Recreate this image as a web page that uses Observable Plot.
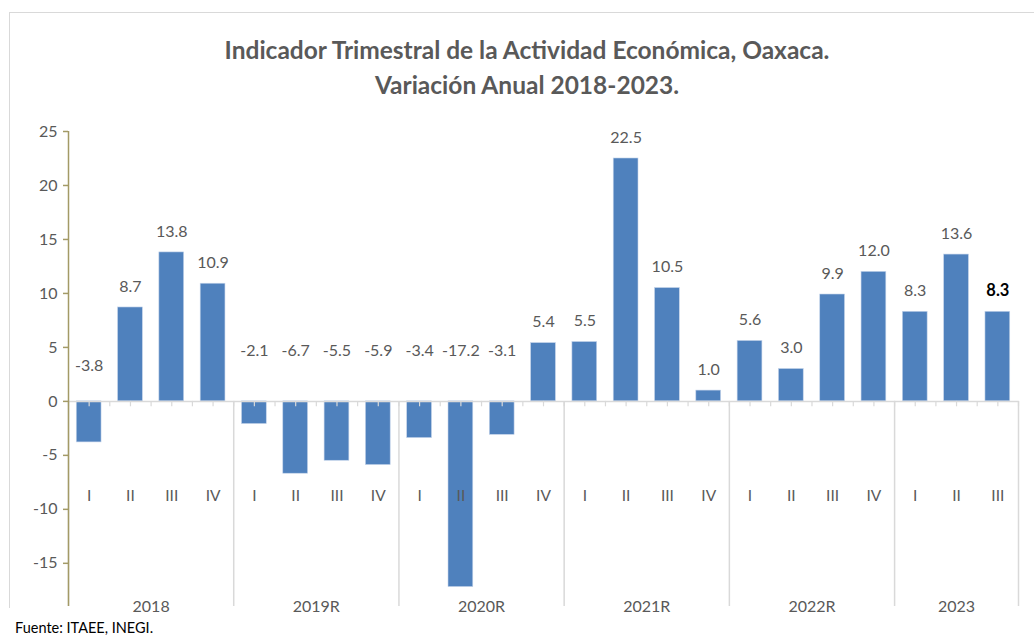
<!DOCTYPE html>
<html>
<head>
<meta charset="utf-8">
<script src="https://cdn.jsdelivr.net/npm/d3@7"></script>
<script src="https://cdn.jsdelivr.net/npm/@observablehq/plot@0.6"></script>
<style>
  html, body { margin: 0; padding: 0; background: #fff; }
  #wrap { position: relative; width: 1034px; height: 641px; overflow: hidden; font-family: Lato, "Open Sans", sans-serif; }
  #frame { position: absolute; left: 9px; top: 12px; width: 1040px; height: 596px; border-left: 1.5px solid #d9d9d9; border-top: 1.5px solid #d9d9d9; box-sizing: border-box; }
  #title { position: absolute; left: 0; top: 32px; width: 1054px; text-align: center; color: #595959; font-weight: bold; font-size: 24.5px; line-height: 35px; }
  #chart { position: absolute; left: 0; top: 0; }
  #footer { position: absolute; left: 15px; top: 619px; font-size: 14.5px; color: #000; line-height: 18px; }
</style>
</head>
<body>
<div id="wrap">
  <div id="frame"></div>
  <div id="title">Indicador Trimestral de la Actividad Económica, Oaxaca.<br>Variación Anual 2018-2023.</div>
  <div id="chart"></div>
  <div id="footer">Fuente: ITAEE, INEGI.</div>
</div>
<script>
const years = ["2018", "2019R", "2020R", "2021R", "2022R", "2023"];
const quartersPerYear = [4, 4, 4, 4, 4, 3];
const quarterLabels = ["I", "II", "III", "IV"];
const values = [-3.8, 8.7, 13.8, 10.9, -2.1, -6.7, -5.5, -5.9, -3.4, -17.2, -3.1, 5.4,
                5.5, 22.5, 10.5, 1.0, 5.6, 3.0, 9.9, 12.0, 8.3, 13.6, 8.3];
const yTicks = [-15, -10, -5, 0, 5, 10, 15, 20, 25];

// build rows
const rows = [];
const groups = [];
let idx = 0;
years.forEach((y, g) => {
  const start = idx;
  for (let q = 0; q < quartersPerYear[g]; q++) {
    rows.push({i: idx, year: y, q: quarterLabels[q], value: values[idx]});
    idx++;
  }
  groups.push({year: y, start: start - 0.5, end: idx - 0.5, mid: (start + idx - 1) / 2});
});
const n = rows.length;
const last = n - 1;
const boundaries = [groups[0].start, ...groups.map(g => g.end)];
const halfTicks = d3.range(-0.5, n, 0.5);

const blue = "#4F81BD";
const gray = "#595959";
const light = "#d9d9d9";
const olive = "#a39a66";
const yMin = -19, yMax = 25;

const labelY = d => d.value >= 0 ? d.value : (d.i === 0 ? 1.3 : 2.7);

const chart = Plot.plot({
  width: 1034,
  height: 620,
  marginLeft: 68,
  marginRight: 16,
  marginTop: 131,
  marginBottom: 14,
  style: {fontFamily: "Lato, 'Open Sans', sans-serif", background: "transparent", overflow: "visible"},
  x: {type: "linear", domain: [-0.5, n - 0.5], axis: null},
  y: {domain: [yMin, yMax], axis: null},
  marks: [
    // bars
    Plot.rectY(rows, {x1: d => d.i - 0.3, x2: d => d.i + 0.3, y1: 0, y2: "value", fill: blue, stroke: "#c5d4ea", strokeWidth: 0.6}),
    // zero line
    Plot.ruleY([0], {x1: -0.5, x2: n - 0.5, stroke: light, strokeWidth: 1.5}),
    // small category ticks
    Plot.ruleX(halfTicks, {x: d => d, y1: 0, y2: -0.5, stroke: light, strokeWidth: 1.2}),
    // group separators
    Plot.ruleX(boundaries, {x: d => d, y1: 0, y2: yMin, stroke: light, strokeWidth: 1.5}),
    // y axis line
    Plot.ruleX([-0.5], {y1: yMin, y2: yMax, stroke: olive, strokeWidth: 1.5}),
    Plot.axisY(yTicks, {label: null, tickSize: 5, stroke: olive, strokeWidth: 1.5, fill: gray, fontSize: 16, tickPadding: 6, tickFormat: d => String(d)}),
    // quarter labels
    Plot.text(rows, {x: "i", y: -8.8, text: "q", fill: gray, fontSize: 15.5}),
    // year labels
    Plot.text(groups, {x: "mid", y: yMin, text: "year", fill: gray, fontSize: 16}),
    // value labels
    Plot.text(rows.filter(d => d.i !== last), {x: "i", y: labelY, text: d => d.value.toFixed(1), fill: gray, fontSize: 16, dy: -21}),
    Plot.text(rows.filter(d => d.i === last), {x: "i", y: labelY, text: d => d.value.toFixed(1), fill: "#000", fontWeight: "bold", fontSize: 16.5, dy: -21})
  ]
});
document.getElementById("chart").appendChild(chart);
</script>
</body>
</html>
